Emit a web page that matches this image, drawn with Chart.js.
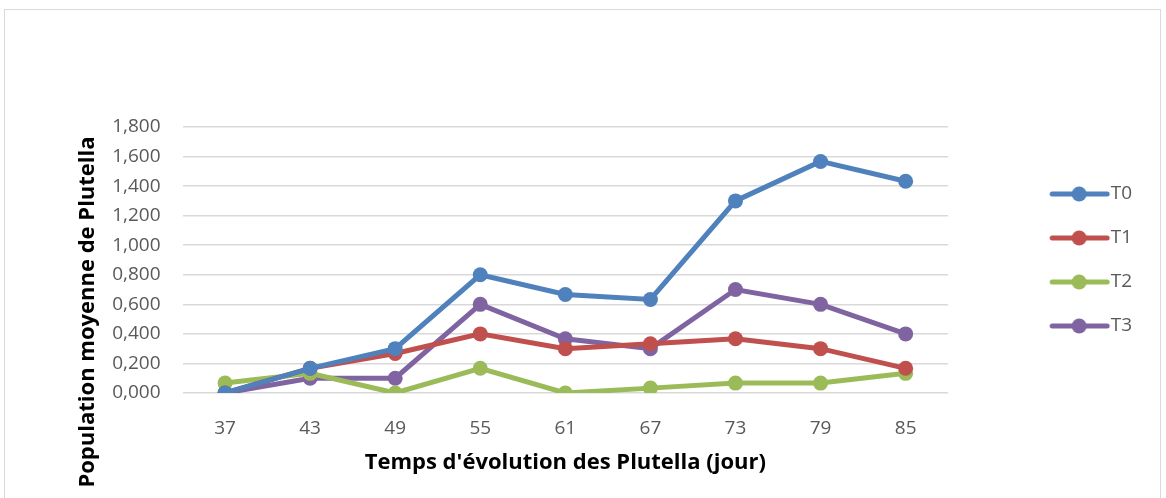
<!DOCTYPE html>
<html>
<head>
<meta charset="utf-8">
<script src="https://cdn.jsdelivr.net/npm/chart.js@4.4.4/dist/chart.umd.min.js"></script>
<style>
  html, body { margin: 0; padding: 0; background: #fff; }
  #wrap { position: relative; width: 1166px; height: 498px; overflow: hidden; }
  #frame { position: absolute; left: 4px; top: 9px; width: 1157px; height: 520px; border: 1px solid #d9d9d9; box-sizing: border-box; }
  canvas { position: absolute; left: 0; top: 0; }
</style>
</head>
<body>
<div id="wrap">
  <div id="frame"></div>
  <canvas id="chart" width="1166" height="498"></canvas>
</div>
<script>
const days = ["37", "43", "49", "55", "61", "67", "73", "79", "85"];
const t0 = [0, 0.167, 0.3, 0.8, 0.667, 0.633, 1.3, 1.567, 1.433];
const t1 = [0, 0.167, 0.267, 0.4, 0.3, 0.333, 0.367, 0.3, 0.167];
const t2 = [0.067, 0.133, 0, 0.167, 0, 0.033, 0.067, 0.067, 0.133];
const t3 = [0, 0.1, 0.1, 0.6, 0.367, 0.3, 0.7, 0.6, 0.4];
const seriesNames = ["T0", "T1", "T2", "T3"];
const colors = ["#4F81BD", "#C0504D", "#9BBB59", "#8064A2"];

const font = "'Open Sans', 'DejaVu Sans', sans-serif";
const yTitleText = "Population moyenne de Plutella";

// legend marker: line with a dot, like the spreadsheet legend
function legendMark(color) {
  const c = document.createElement("canvas");
  c.width = 64;
  c.height = 18;
  const g = c.getContext("2d");
  g.strokeStyle = color;
  g.lineWidth = 5;
  g.lineCap = "round";
  g.beginPath();
  g.moveTo(5, 9);
  g.lineTo(60, 9);
  g.stroke();
  g.fillStyle = color;
  g.beginPath();
  g.arc(32, 9, 7.5, 0, Math.PI * 2);
  g.fill();
  return c;
}
const marks = colors.map(legendMark);

// the y title sits lower than the plot middle in the original, so draw it here
const yTitlePlugin = {
  id: "yTitle",
  afterDraw(chart) {
    const ctx = chart.ctx;
    ctx.save();
    ctx.translate(88, 312);
    ctx.rotate(-Math.PI / 2);
    ctx.font = "bold 22px " + font;
    ctx.fillStyle = "#000";
    ctx.textAlign = "center";
    ctx.textBaseline = "middle";
    ctx.fillText(yTitleText, 0, 0);
    ctx.restore();
  },
};

const datasets = [t0, t1, t2, t3].map((values, i) => ({
  label: seriesNames[i],
  data: values,
  borderColor: colors[i],
  backgroundColor: colors[i],
  borderWidth: 5,
  pointRadius: 7.5,
  pointHoverRadius: 7.5,
  pointBorderWidth: 0,
  tension: 0,
}));

new Chart(document.getElementById("chart"), {
  type: "line",
  data: { labels: days, datasets },
  plugins: [yTitlePlugin],
  options: {
    responsive: false,
    animation: false,
    devicePixelRatio: 1,
    layout: { padding: { top: 127, left: 0, right: 24, bottom: 0 } },
    plugins: {
      tooltip: { enabled: false },
      legend: {
        position: "right",
        fullSize: false,
        labels: {
          usePointStyle: true,
          pointStyleWidth: 44,
          padding: 25,
          color: "#595959",
          font: { family: font, size: 19 },
          generateLabels: (chart) =>
            Chart.defaults.plugins.legend.labels
              .generateLabels(chart)
              .map((item, i) => ({ ...item, pointStyle: marks[i] })),
        },
      },
    },
    scales: {
      x: {
        offset: true,
        grid: { display: false },
        border: { display: false },
        ticks: { color: "#595959", padding: 16, font: { family: font, size: 19 } },
        title: {
          display: true,
          text: "Temps d'évolution des Plutella (jour)",
          color: "#000",
          font: { family: font, size: 22, weight: "bold" },
          padding: { top: 4, bottom: 22 },
        },
        afterFit: (scale) => { scale.height = 105; },
      },
      y: {
        min: 0,
        max: 1.8,
        ticks: {
          stepSize: 0.2,
          color: "#595959",
          padding: 22,
          font: { family: font, size: 19 },
          callback: (v) => v.toFixed(3).replace(".", ","),
        },
        grid: { color: "#d9d9d9", lineWidth: 1.5, drawTicks: false },
        border: { display: false },
        afterFit: (scale) => { scale.width = 182.5; },
      },
      // empty right axis, only keeps the gap between plot and legend
      gap: {
        position: "right",
        display: true,
        grid: { display: false },
        border: { display: false },
        ticks: { display: false },
        afterFit: (scale) => { scale.width = 84; },
      },
    },
  },
});
</script>
</body>
</html>
